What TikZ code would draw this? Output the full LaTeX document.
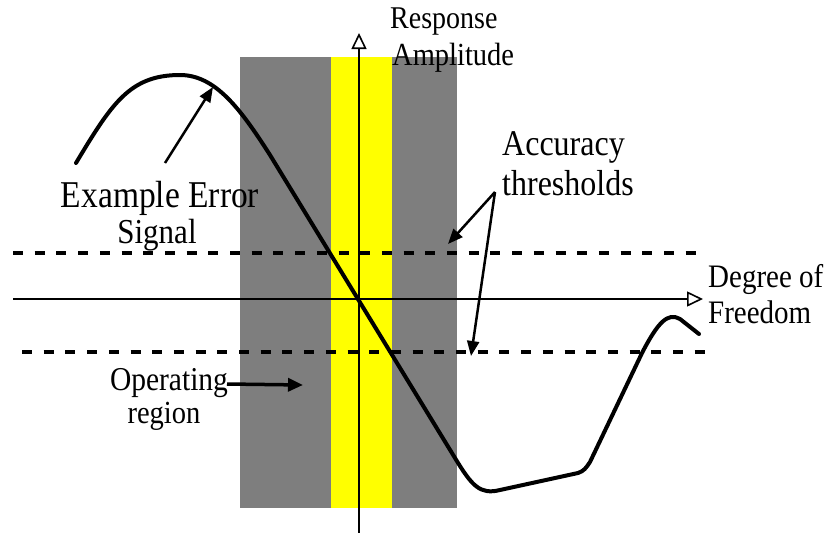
\documentclass[tikz,border=0pt]{standalone}
\usepackage{fontspec}
\setmainfont{Liberation Serif}
\usetikzlibrary{arrows.meta}
\definecolor{bandgray}{RGB}{126,126,126}
\definecolor{bandyellow}{RGB}{255,255,0}
\newcommand{\lbl}[2]{{\fontsize{#1}{#1}\selectfont\scalebox{1}[1.13]{#2}}}
\begin{document}
\begin{tikzpicture}[x=1pt,y=-1pt,
  axisline/.style={line width=2pt,-{Triangle[open,length=16pt,width=15pt,line width=1.6pt]}},
  thresh/.style={line width=4pt,dash pattern=on 10pt off 11.7pt},
  signal/.style={line width=4pt,line join=round,line cap=round},
  pointer/.style={line width=2.5pt,-{Triangle[length=15pt,width=12pt]}},
  txt/.style={inner sep=0pt,anchor=base west}]
\useasboundingbox (0,0) rectangle (831,533);
% bands
\fill[bandgray] (240,57) rectangle (457,508);
\fill[bandyellow] (331,57) rectangle (392,508);
% thresholds
\coordinate (tuL) at (13,253); \coordinate (tuR) at (700,253);
\coordinate (tlL) at (22,352); \coordinate (tlR) at (710,352);
\draw[thresh] (tuL) -- (tuR);
\draw[thresh] (tlL) -- (tlR);
% axes
\coordinate (hx0) at (13,299); \coordinate (hx1) at (703,299);
\coordinate (vy0) at (359,533); \coordinate (vy1) at (359,33);
\draw[axisline] (hx0) -- (hx1);
\draw[axisline] (vy0) -- (vy1);
% error signal
\draw[signal] (76,163) .. controls (112,103) and (130,75) .. (180,75)
  .. controls (215,75) and (240,108) .. (270,155)
  -- (455,458) .. controls (472,486) and (480,495) .. (500,490)
  -- (578,473) .. controls (584,471) and (586,468) .. (590,462)
  -- (642,353) .. controls (658,322) and (668,312) .. (680,319)
  -- (699,334);
% labels
\node[txt] (resp) at (390,28) {\lbl{28}{Response}};
\node[txt] (ampl) at (392,65) {\lbl{28.5}{Amplitude}};
\node[inner sep=0pt,anchor=base] (exerr) at (160,207) {\lbl{33.5}{Example Error}};
\node[inner sep=0pt,anchor=base] (sig) at (157,243) {\lbl{31}{Signal}};
\node[txt] (acc) at (502,155) {\lbl{32}{Accuracy}};
\node[txt] (thr) at (502,195) {\lbl{32}{thresholds}};
\node[txt] (deg) at (708,287) {\lbl{29}{Degree of}};
\node[txt] (free) at (708,323) {\lbl{29}{Freedom}};
\node[inner sep=0pt,anchor=base] (oper) at (169,390) {\lbl{29.5}{Operating}};
\node[inner sep=0pt,anchor=base] (reg) at (164,423) {\lbl{28.5}{region}};
% pointers
\coordinate (exTail) at (165,163); \coordinate (exHead) at (213,87);
\draw[pointer] (exTail) -- (exHead);
\coordinate (thTail) at (495,192);
\coordinate (thHeadU) at (448,244); \coordinate (thHeadL) at (471,356);
\draw[pointer] (thTail) -- (thHeadU);
\draw[pointer] (thTail) -- (thHeadL);
\coordinate (opTail) at (227,384); \coordinate (opHead) at (303,385);
\draw[line width=3.5pt,-{Triangle[length=15pt,width=13pt]}] (opTail) -- (opHead);
\end{tikzpicture}
\end{document}
